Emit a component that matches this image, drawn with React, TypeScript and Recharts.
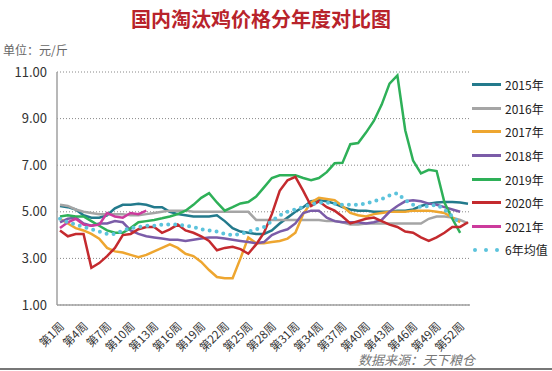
import React from 'react';
import { LineChart, Line, XAxis, YAxis, CartesianGrid } from 'recharts';

// week labels 第1周 .. 第53周
const weeks = Array.from({ length: 53 }, (_, i) => `第${i + 1}周`);

const y2015 = [5.25, 5.2, 5.1, 4.85, 4.75, 4.75, 4.85, 5.15, 5.3, 5.3, 5.35, 5.3, 5.2, 5.2, 5.0, 4.9, 4.85, 4.8, 4.8, 4.8, 4.85, 4.6, 4.3, 4.15, 4.1, 4.05, 4.05, 4.2, 4.5, 4.75, 5.0, 5.2, 5.45, 5.5, 5.45, 5.35, 5.2, 5.1, 5.05, 5.05, 5.0, 5.0, 5.0, 5.05, 5.05, 5.1, 5.25, 5.35, 5.4, 5.42, 5.42, 5.4, 5.35];
const y2016 = [5.3, 5.25, 5.1, 5.0, 4.95, 4.9, 4.9, 4.9, 4.9, 4.85, 4.85, 4.9, 4.95, 5.0, 5.05, 5.05, 5.05, 5.0, 5.0, 5.0, 5.0, 5.0, 5.0, 5.0, 5.0, 4.65, 4.65, 4.65, 4.65, 4.65, 4.65, 4.65, 4.65, 4.65, 4.6, 4.6, 4.55, 4.45, 4.45, 4.5, 4.5, 4.5, 4.5, 4.5, 4.5, 4.5, 4.5, 4.7, 4.8, 4.8, 4.75, 4.65, 4.5];
const y2017 = [4.7, 4.5, 4.3, 4.2, 4.05, 3.85, 3.45, 3.3, 3.25, 3.15, 3.05, 3.15, 3.3, 3.45, 3.6, 3.45, 3.2, 3.1, 2.85, 2.5, 2.2, 2.15, 2.15, 3.0, 3.9, 3.65, 3.65, 3.7, 3.75, 3.85, 4.1, 4.9, 5.4, 5.6, 5.55, 5.5, 5.25, 4.95, 4.85, 4.8, 4.9, 4.95, 5.0, 5.0, 5.0, 5.05, 5.05, 5.05, 5.0, 4.95, 4.75, 4.55];
const y2018 = [4.55, 4.7, 4.75, 4.5, 4.4, 4.5, 4.5, 4.6, 4.55, 4.2, 4.05, 3.95, 3.9, 3.85, 3.8, 3.8, 3.75, 3.8, 3.85, 3.9, 3.9, 3.85, 3.8, 3.75, 3.7, 3.65, 3.7, 4.0, 4.15, 4.25, 4.5, 4.95, 5.05, 5.05, 4.75, 4.6, 4.55, 4.55, 4.55, 4.5, 4.55, 4.65, 5.0, 5.25, 5.45, 5.5, 5.45, 5.35, 5.3, 5.2, 5.1, 5.0];
const y2019 = [4.8, 4.85, 4.8, 4.8, 4.6, 4.4, 4.2, 4.1, 4.1, 4.3, 4.55, 4.6, 4.65, 4.72, 4.8, 4.9, 5.05, 5.3, 5.6, 5.8, 5.4, 5.05, 5.2, 5.36, 5.42, 5.65, 6.05, 6.45, 6.57, 6.57, 6.57, 6.45, 6.36, 6.45, 6.7, 7.08, 7.1, 7.9, 7.95, 8.4, 8.9, 9.6, 10.5, 10.85, 8.5, 7.2, 6.65, 6.8, 6.75, 5.4, 4.7, 4.1];
const y2020 = [4.2, 3.95, 4.05, 4.05, 2.6, 2.8, 3.1, 3.45, 4.0, 4.05, 4.25, 4.35, 4.35, 4.1, 4.25, 4.45, 4.2, 4.1, 3.95, 3.75, 3.35, 3.45, 3.5, 3.4, 3.2, 3.6, 4.1, 4.9, 5.9, 6.35, 6.5, 5.9, 5.25, 5.45, 5.2, 5.05, 4.8, 4.5, 4.6, 4.7, 4.75, 4.6, 4.45, 4.35, 4.15, 4.1, 3.9, 3.75, 3.9, 4.1, 4.35, 4.35, 4.55];
const y2021 = [4.3, 4.55, 4.7, 4.45, 4.4, 4.45, 4.95, 4.8, 4.75, 4.95, 4.9, 5.05];
const avg6 = [4.7, 4.55, 4.45, 4.35, 4.25, 4.15, 4.05, 4.05, 4.2, 4.3, 4.35, 4.4, 4.4, 4.45, 4.45, 4.45, 4.4, 4.35, 4.25, 4.2, 4.15, 4.05, 4.0, 4.05, 4.15, 4.25, 4.35, 4.6, 4.85, 5.0, 5.1, 5.2, 5.3, 5.4, 5.4, 5.35, 5.3, 5.3, 5.3, 5.35, 5.45, 5.55, 5.7, 5.8, 5.5, 5.3, 5.2, 5.25, 5.3, 5.1, 4.8, 4.5];

const yTicks = [1, 3, 5, 7, 9, 11];

const series = [
  { key: 'y2015', name: '2015年', color: '#237A8C', values: y2015 },
  { key: 'y2016', name: '2016年', color: '#A5A5A5', values: y2016 },
  { key: 'y2017', name: '2017年', color: '#EEA630', values: y2017 },
  { key: 'y2018', name: '2018年', color: '#7B5CA8', values: y2018 },
  { key: 'y2019', name: '2019年', color: '#2EB058', values: y2019 },
  { key: 'y2020', name: '2020年', color: '#C42A2E', values: y2020 },
  { key: 'y2021', name: '2021年', color: '#CC3B9C', values: y2021 },
];
const avgColor = '#5CC3DC';

const data = weeks.map((week, i) => {
  const row: any = { week, avg6: avg6[i] ?? null };
  series.forEach(s => { row[s.key] = s.values[i] ?? null; });
  return row;
});

const font = '"Noto Sans CJK SC", "Noto Sans", sans-serif';

const WeekTick = ({ x, y, payload }: any) => (
  <g transform={`translate(${x + 5},${y + 20})`}>
    <text textAnchor="end" transform="rotate(-45)" fontSize={11.5} fill="#333" fontFamily={font}>
      {payload.value}
    </text>
  </g>
);

const App: React.FC = () => {
  return (
    <div style={{ position: 'absolute', left: 0, top: 0, width: 552, height: 371, background: '#fff', fontFamily: font, overflow: 'hidden' }}>
      <div style={{ position: 'absolute', left: 0, width: 522, top: 4, textAlign: 'center', fontSize: 20, fontWeight: 600, color: '#B8232B' }}>
        国内淘汰鸡价格分年度对比图
      </div>
      <div style={{ position: 'absolute', left: 3, top: 41, fontSize: 12, color: '#666' }}>单位：元/斤</div>

      <LineChart width={552} height={371} data={data} margin={{ top: 72, right: 82, left: 0, bottom: 26 }}>
        <CartesianGrid vertical={false} stroke="#888" strokeDasharray="1 2" />
        <XAxis
          dataKey="week"
          interval={2}
          tick={<WeekTick />}
          tickLine={false}
          tickSize={0}
          height={40}
          padding={{ left: 3, right: 2 }}
          stroke="#A0A0A0"
          strokeWidth={1.5}
        />
        <YAxis
          domain={[1, 11]}
          ticks={yTicks}
          width={57}
          tickLine={false}
          tickSize={0}
          tickMargin={10}
          tickFormatter={(v: number) => v.toFixed(2)}
          tick={{ fontSize: 13, fill: '#333', fontFamily: font }}
          stroke="#A0A0A0"
          strokeWidth={1.5}
        />
        {series.map(s => (
          <Line
            key={s.key}
            dataKey={s.key}
            name={s.name}
            stroke={s.color}
            strokeWidth={2.5}
            dot={false}
            type="linear"
            isAnimationActive={false}
          />
        ))}
        <Line
          dataKey="avg6"
          name="6年均值"
          stroke={avgColor}
          strokeWidth={4}
          strokeDasharray="0 7"
          strokeLinecap="round"
          dot={false}
          type="linear"
          isAnimationActive={false}
        />
      </LineChart>

      <div style={{ position: 'absolute', left: 472, top: 73 }}>
        {series.map(s => (
          <div key={s.key} style={{ display: 'flex', alignItems: 'center', height: 23.6, fontSize: 12, color: '#222' }}>
            <span style={{ display: 'inline-block', width: 29, height: 3, background: s.color, marginRight: 4 }} />
            {s.name}
          </div>
        ))}
        <div style={{ display: 'flex', alignItems: 'center', height: 23.6, fontSize: 12, color: '#222' }}>
          <svg width={29} height={6} style={{ marginRight: 4 }}>
            {[3, 14, 25].map(cx => <circle key={cx} cx={cx} cy={3} r={2} fill={avgColor} />)}
          </svg>
          6年均值
        </div>
      </div>

      <div style={{ position: 'absolute', left: 358, top: 350, fontSize: 13, fontStyle: 'italic', color: '#777' }}>
        数据来源：天下粮仓
      </div>
      <div style={{ position: 'absolute', left: 0, top: 368, width: 552, height: 2, background: '#777' }} />
    </div>
  );
};

export default App;
